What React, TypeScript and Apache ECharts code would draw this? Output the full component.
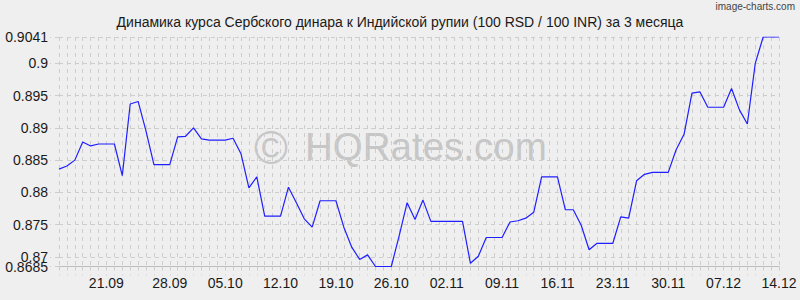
import React, { useEffect, useRef } from 'react';
import * as echarts from 'echarts';

const TITLE = 'Динамика курса Сербского динара к Индийской рупии (100 RSD / 100 INR) за 3 месяца';
const BRAND = 'image-charts.com';
const WATERMARK_SIGN = '©';
const WATERMARK_TEXT = 'HQRates.com';

const dates = [
  '14.09', '15.09', '16.09', '17.09', '18.09', '19.09', '20.09', '21.09', '22.09', '23.09',
  '24.09', '25.09', '26.09', '27.09', '28.09', '29.09', '30.09',
  '01.10', '02.10', '03.10', '04.10', '05.10', '06.10', '07.10', '08.10', '09.10', '10.10',
  '11.10', '12.10', '13.10', '14.10', '15.10', '16.10', '17.10', '18.10', '19.10', '20.10',
  '21.10', '22.10', '23.10', '24.10', '25.10', '26.10', '27.10', '28.10', '29.10', '30.10', '31.10',
  '01.11', '02.11', '03.11', '04.11', '05.11', '06.11', '07.11', '08.11', '09.11', '10.11',
  '11.11', '12.11', '13.11', '14.11', '15.11', '16.11', '17.11', '18.11', '19.11', '20.11',
  '21.11', '22.11', '23.11', '24.11', '25.11', '26.11', '27.11', '28.11', '29.11', '30.11',
  '01.12', '02.12', '03.12', '04.12', '05.12', '06.12', '07.12', '08.12', '09.12', '10.12',
  '11.12', '12.12', '13.12', '14.12',
];

const rates = [
  0.8836, 0.8841, 0.8850, 0.8878, 0.8872, 0.8875, 0.8875, 0.8875, 0.8826, 0.8937,
  0.8941, 0.8895, 0.8843, 0.8843, 0.8843, 0.8886, 0.8887, 0.8900, 0.8883, 0.8881,
  0.8881, 0.8881, 0.8884, 0.8860, 0.8807, 0.8824, 0.8763, 0.8763, 0.8763, 0.8808,
  0.8784, 0.8759, 0.8746, 0.8787, 0.8787, 0.8787, 0.8746, 0.8715, 0.8696, 0.8703,
  0.8685, 0.8685, 0.8685, 0.8733, 0.8784, 0.8758, 0.8788, 0.8755, 0.8755, 0.8755,
  0.8755, 0.8755, 0.8690, 0.8701, 0.8730, 0.8730, 0.8730, 0.8754, 0.8756, 0.8760,
  0.8769, 0.8824, 0.8824, 0.8824, 0.8773, 0.8773, 0.8749, 0.8711, 0.8721, 0.8721,
  0.8721, 0.8762, 0.8760, 0.8818, 0.8828, 0.8831, 0.8831, 0.8831, 0.8866, 0.8890,
  0.8954, 0.8956, 0.8932, 0.8932, 0.8932, 0.8961, 0.8928, 0.8906, 0.9000, 0.9041,
  0.9041, 0.9041,
];

const xTickLabels = ['21.09', '28.09', '05.10', '12.10', '19.10', '26.10', '02.11', '09.11', '16.11', '23.11', '30.11', '07.12', '14.12'];
const yTickValues = [0.8685, 0.87, 0.875, 0.88, 0.885, 0.89, 0.895, 0.9, 0.9041];
// labels that overlap their neighbour in the original are drawn on a twin axis
const yTickValuesOverlap = [0.87];
const Y_MIN = 0.8685;
const Y_MAX = 0.9041;

const FONT = '"Liberation Sans", Arial, Helvetica, sans-serif';
const GRID_COLOR = '#cdcdcd';
const TEXT_COLOR = '#1a1a1a';

const yLabelStyle = {
  margin: 11,
  fontSize: 14,
  color: TEXT_COLOR,
  fontFamily: FONT,
  showMinLabel: true,
  showMaxLabel: true,
  hideOverlap: false,
  formatter: (v: number) => String(Number(v.toFixed(4))),
};

export default function App() {
  const ref = useRef<HTMLDivElement>(null);

  useEffect(() => {
    if (!ref.current) return;
    const chart = echarts.init(ref.current, null, { renderer: 'svg' });
    chart.setOption({
      animation: false,
      backgroundColor: '#efefef',
      textStyle: { fontFamily: FONT },
      title: {
        text: TITLE,
        left: 'center',
        top: 10,
        textStyle: { fontSize: 14, fontWeight: 'normal', color: TEXT_COLOR, fontFamily: FONT },
      },
      graphic: [
        {
          type: 'text',
          right: 5,
          top: 1,
          style: { text: BRAND, fontSize: 10, fill: '#444', fontFamily: FONT },
        },
        {
          type: 'text',
          x: 271,
          y: 148,
          z: 0,
          style: {
            text: WATERMARK_SIGN,
            fontSize: 46,
            fontFamily: FONT,
            fill: '#c6c6c6',
            align: 'center',
            verticalAlign: 'middle',
          },
        },
        {
          type: 'text',
          x: 305,
          y: 146,
          z: 0,
          style: {
            text: WATERMARK_TEXT,
            fontSize: 38.5,
            fontFamily: FONT,
            fill: '#c6c6c6',
            align: 'left',
            verticalAlign: 'middle',
          },
        },
      ],
      grid: { left: 59, right: 21, top: 37, bottom: 33.5, containLabel: false },
      xAxis: {
        type: 'category',
        data: dates,
        boundaryGap: false,
        axisLine: { show: true, lineStyle: { color: '#bdbdbd', width: 1 } },
        axisTick: {
          show: true,
          interval: 0,
          length: 9,
          lineStyle: { color: GRID_COLOR, type: [4, 4], width: 1 },
        },
        splitLine: {
          show: true,
          interval: 0,
          lineStyle: { color: GRID_COLOR, type: [4, 4], width: 1 },
        },
        axisLabel: {
          interval: (idx: number, val: string) => xTickLabels.indexOf(val) >= 0,
          margin: 9,
          fontSize: 14,
          color: TEXT_COLOR,
          fontFamily: FONT,
          formatter: (val: string) => (val === xTickLabels[0] ? `{s|${val}}` : val),
          rich: {
            s: { fontSize: 14, color: TEXT_COLOR, fontFamily: FONT, padding: [0, 16, 0, 0] },
          },
        },
      },
      yAxis: [
        {
          type: 'value',
          min: Y_MIN,
          max: Y_MAX,
          axisLine: { show: false },
          axisTick: {
            show: true,
            length: 9,
            customValues: yTickValues,
            lineStyle: { color: GRID_COLOR, type: [4, 4] },
          },
          splitLine: {
            show: true,
            lineStyle: { color: GRID_COLOR, type: [4, 4], width: 1 },
          },
          axisLabel: {
            ...yLabelStyle,
            customValues: yTickValues.filter((v) => yTickValuesOverlap.indexOf(v) < 0),
          },
        },
        {
          type: 'value',
          position: 'left',
          offset: 0,
          min: Y_MIN,
          max: Y_MAX,
          axisLine: { show: false },
          axisTick: { show: false, customValues: yTickValuesOverlap },
          splitLine: { show: false },
          axisLabel: { ...yLabelStyle, customValues: yTickValuesOverlap },
        },
      ],
      series: [
        {
          type: 'line',
          data: rates,
          yAxisIndex: 0,
          symbol: 'none',
          z: 5,
          lineStyle: { color: '#1f1fff', width: 1.2 },
        },
      ],
    });
    return () => chart.dispose();
  }, []);

  return (
    <div
      ref={ref}
      style={{ position: 'fixed', left: 0, top: 0, width: 800, height: 300 }}
    />
  );
}
